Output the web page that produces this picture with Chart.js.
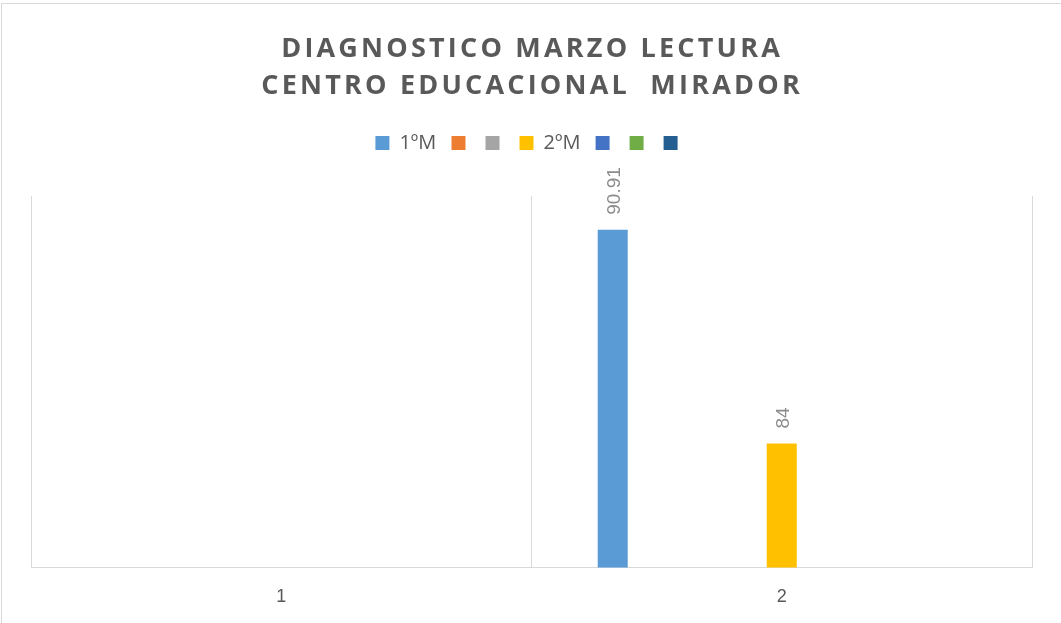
<!DOCTYPE html>
<html>
<head>
<meta charset="utf-8">
<script src="https://cdn.jsdelivr.net/npm/chart.js@4.4.1/dist/chart.umd.min.js"></script>
<style>
  html, body { margin: 0; padding: 0; background: #fff; overflow: hidden; }
  #frame { position: absolute; left: 1px; top: 3px; width: 1200px; height: 800px; border: 1px solid #d9d9d9; }
  #wrap { position: absolute; left: 0; top: 0; width: 1061px; height: 627px; }
</style>
</head>
<body>
<div id="frame"></div>
<div id="wrap"><canvas id="chart"></canvas></div>
<script>
// chart data
const titleLines = ['DIAGNOSTICO MARZO LECTURA', 'CENTRO EDUCACIONAL  MIRADOR'];
const categories = ['1', '2'];
const seriesNames = ['1ºM', '', '', '2ºM', '', '', ''];
const series1 = [null, 90.91];
const series2 = [null, null];
const series3 = [null, null];
const series4 = [null, 84];
const series5 = [null, null];
const series6 = [null, null];
const series7 = [null, null];
const yMin = 80;
const yMax = 92;

const seriesColors = ['#5B9BD5', '#ED7D31', '#A5A5A5', '#FFC000', '#4472C4', '#70AD47', '#255E91'];
const allSeries = [series1, series2, series3, series4, series5, series6, series7];

// title with letter spacing (Chart.js title has no letterSpacing option)
const spacedTitle = {
  id: 'spacedTitle',
  afterDraw(chart) {
    const ctx = chart.ctx;
    ctx.save();
    ctx.font = 'bold 27px "Open Sans"';
    ctx.fillStyle = '#595959';
    ctx.textAlign = 'center';
    ctx.textBaseline = 'alphabetic';
    ctx.letterSpacing = '3.2px';
    const cx = chart.width / 2 + 1.6;
    titleLines.forEach((line, i) => ctx.fillText(line, cx, 57 + i * 37));
    ctx.restore();
  }
};

// fixed legend block height so the plot starts lower
const legendSpace = {
  id: 'legendSpace',
  beforeInit(chart) {
    const fit = chart.legend.fit;
    chart.legend.fit = function () {
      fit.call(this);
      this.height = 73;
    };
  }
};

// rotated value labels above the bars
const barValueLabels = {
  id: 'barValueLabels',
  afterDatasetsDraw(chart) {
    const ctx = chart.ctx;
    ctx.save();
    ctx.font = '19px "Liberation Sans"';
    ctx.fillStyle = '#8c8c8c';
    ctx.textAlign = 'left';
    ctx.textBaseline = 'middle';
    chart.data.datasets.forEach((ds, i) => {
      const meta = chart.getDatasetMeta(i);
      meta.data.forEach((bar, j) => {
        const v = ds.data[j];
        if (v === null || v === undefined) return;
        ctx.save();
        ctx.translate(bar.x + 2, bar.y - 15);
        ctx.rotate(-Math.PI / 2);
        ctx.fillText(String(v), 0, 0);
        ctx.restore();
      });
    });
    ctx.restore();
  }
};

new Chart(document.getElementById('chart'), {
  type: 'bar',
  data: {
    labels: categories,
    datasets: allSeries.map((data, i) => ({
      label: seriesNames[i],
      data: data,
      backgroundColor: seriesColors[i],
      borderWidth: 0
    }))
  },
  options: {
    responsive: true,
    maintainAspectRatio: false,
    animation: false,
    layout: { padding: { top: 123, left: 31, right: 29, bottom: 0 } },
    datasets: { bar: { categoryPercentage: 0.788, barPercentage: 0.533 } },
    plugins: {
      title: { display: false },
      tooltip: { enabled: false },
      legend: {
        position: 'top',
        labels: {
          boxWidth: 14,
          boxHeight: 14,
          padding: 10,
          color: '#595959',
          font: { size: 20, family: 'Open Sans' },
          // a bit more room after the named entries, like the original
          generateLabels(chart) {
            const items = Chart.defaults.plugins.legend.labels.generateLabels(chart);
            items.forEach(item => { if (item.text) item.text += ' '; });
            return items;
          }
        }
      }
    },
    scales: {
      x: {
        grid: { color: '#d9d9d9', drawTicks: false, offset: true },
        border: { color: '#d9d9d9' },
        ticks: { color: '#595959', padding: 19, font: { size: 18, family: 'Liberation Sans' } }
      },
      y: { display: false, min: yMin, max: yMax }
    }
  },
  plugins: [spacedTitle, legendSpace, barValueLabels]
});
</script>
</body>
</html>
